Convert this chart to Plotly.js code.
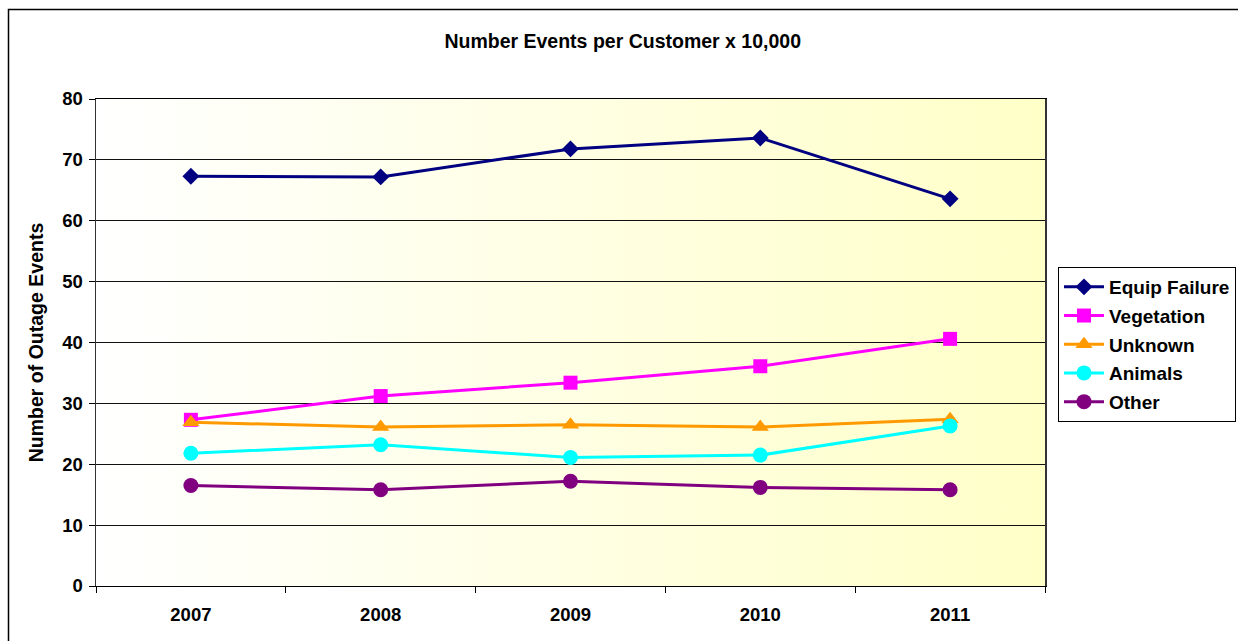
<!DOCTYPE html>
<html>
<head>
<meta charset="utf-8">
<script src="https://cdn.plot.ly/plotly-3.0.1.min.js"></script>
<style>
html,body{margin:0;padding:0;background:#fff;overflow:hidden;}
#chart{width:1238px;height:641px;}
</style>
</head>
<body>
<div id="chart"></div>
<script>
const years = ['2007', '2008', '2009', '2010', '2011'];
const equipFailure = [67.3, 67.2, 71.8, 73.6, 63.6];
const vegetation = [27.3, 31.2, 33.4, 36.1, 40.6];
const unknown = [26.9, 26.1, 26.5, 26.1, 27.4];
const animals = [21.8, 23.2, 21.1, 21.5, 26.3];
const other = [16.5, 15.8, 17.2, 16.2, 15.8];
const yTickVals = [0, 10, 20, 30, 40, 50, 60, 70, 80];

const FONT = '"Liberation Sans", Arial, sans-serif';

function series(name, y, color, symbol, size, group) {
  return {
    type: 'scatter', mode: 'lines+markers', name: name, x: years, y: y,
    line: {color: color, width: 3},
    marker: {color: color, symbol: symbol, size: size, line: {width: 0}},
    legendgroup: group
  };
}

const traces = [
  series('Equip Failure', equipFailure, '#000080', 'diamond', 13, 'a'),
  series('Vegetation', vegetation, '#FF00FF', 'square', 14, 'b'),
  series('Unknown', unknown, '#FF9900', 'triangle-up', 15, 'c'),
  series('Animals', animals, '#00FFFF', 'circle', 15, 'd'),
  series('Other', other, '#800080', 'circle', 15, 'e')
];

const svg = '<svg xmlns="http://www.w3.org/2000/svg" width="949" height="487" preserveAspectRatio="none">' +
  '<defs><linearGradient id="g" x1="0" y1="0" x2="1" y2="0">' +
  '<stop offset="0" stop-color="#FFFFFF"/><stop offset="1" stop-color="#FFFFC8"/>' +
  '</linearGradient></defs><rect width="949" height="487" fill="url(#g)"/></svg>';
const bgSrc = 'data:image/svg+xml;utf8,' + encodeURIComponent(svg);

const layout = {
  width: 1238, height: 641,
  margin: {l: 96, r: 193, t: 99, b: 55, pad: 0},
  paper_bgcolor: '#FFFFFF',
  plot_bgcolor: 'rgba(0,0,0,0)',
  font: {family: FONT, color: '#000'},
  title: {
    text: 'Number Events per Customer x 10,000',
    font: {family: FONT, size: 19.5, weight: 700, color: '#000'},
    xref: 'container', x: 0.503, xanchor: 'center',
    yref: 'container', y: 0.936, yanchor: 'middle'
  },
  xaxis: {
    type: 'category', range: [-0.5, 4.5],
    tickson: 'boundaries', ticks: 'outside', ticklen: 6, tickcolor: '#000', tickwidth: 1,
    showline: true, linecolor: '#000', linewidth: 1, mirror: true,
    showgrid: false, zeroline: false, ticklabelstandoff: 12,
    tickfont: {family: FONT, size: 18.5, weight: 700, color: '#000'},
    fixedrange: true
  },
  yaxis: {
    range: [0, 80], tickvals: yTickVals, ticktext: yTickVals.map(String),
    ticks: 'outside', ticklen: 6, tickcolor: '#000', tickwidth: 1,
    showline: true, linecolor: '#333', linewidth: 1.5, mirror: true,
    showgrid: true, gridcolor: '#111', gridwidth: 1, zeroline: false,
    ticklabelstandoff: 2,
    tickfont: {family: FONT, size: 18.5, weight: 700, color: '#000'},
    title: {text: 'Number of Outage Events', font: {family: FONT, size: 19.5, weight: 700, color: '#000'}, standoff: 13},
    fixedrange: true
  },
  legend: {
    xref: 'container', yref: 'container',
    x: 0.8546, xanchor: 'left', y: 0.5835, yanchor: 'top',
    bgcolor: '#FFFFFF', bordercolor: '#000', borderwidth: 1,
    font: {family: FONT, size: 19, weight: 700, color: '#000'},
    tracegroupgap: 1, itemwidth: 40
  },
  images: [{
    source: bgSrc, xref: 'paper', yref: 'paper', x: 0, y: 1, sizex: 1, sizey: 1,
    xanchor: 'left', yanchor: 'top', sizing: 'stretch', layer: 'below'
  }],
  shapes: [{
    type: 'rect', xref: 'paper', yref: 'paper',
    x0: -0.0922, x1: 1.5, y0: -0.5, y1: 1.1838,
    line: {color: '#000', width: 1.5}, fillcolor: 'rgba(0,0,0,0)', layer: 'below'
  }],
  showlegend: true
};

Plotly.newPlot('chart', traces, layout, {displayModeBar: false, staticPlot: true});
</script>
</body>
</html>
